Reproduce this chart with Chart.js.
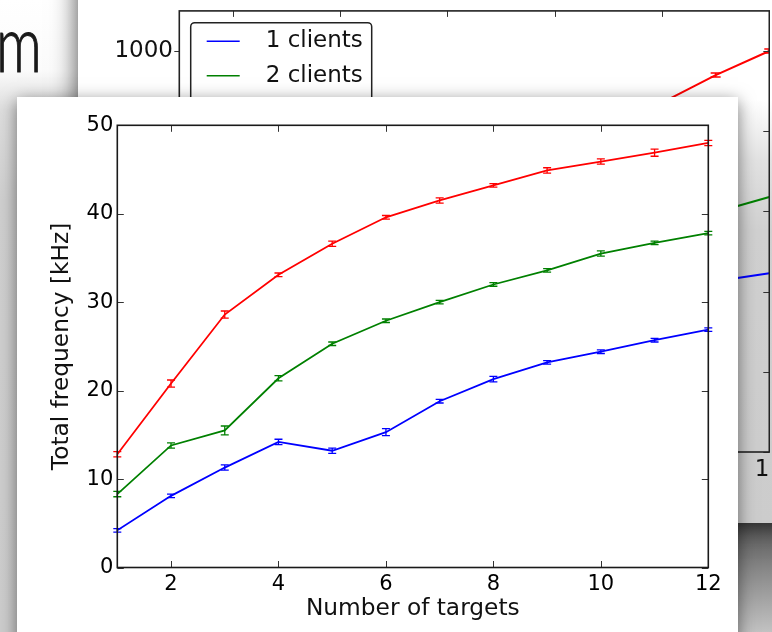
<!DOCTYPE html>
<html>
<head>
<meta charset="utf-8">
<script src="https://cdn.jsdelivr.net/npm/chart.js@4.4.1/dist/chart.umd.min.js"></script>
<style>
  html, body { margin: 0; padding: 0; width: 772px; height: 632px; overflow: hidden; background: #cfcfcf; }
  #slide { position: absolute; left: 0; top: 0; width: 100px; height: 632px;
           background: linear-gradient(to bottom, #ffffff 0px, #fbfbfb 70px, #dedede 110px, #d0d0d0 200px, #cdcdcd 632px); }
  #heading { position: absolute; left: -4px; top: 2px; font-family: 'Lato', 'Roboto', sans-serif; font-weight: 300;
             font-size: 79px; line-height: 79px; color: #1a1a1a; -webkit-text-stroke: 1.1px #1a1a1a;
             transform: scaleX(0.72); transform-origin: 0 0; }
  #floor { position: absolute; left: 690px; top: 523px; width: 82px; height: 109px;
           background: linear-gradient(to bottom, #555555 0%, #8a8a8a 45%, #c2c2c2 100%); }
  #backPanel { position: absolute; left: 78px; top: -40px; width: 740px; height: 563px;
               background: linear-gradient(to bottom, #ffffff 0px, #ffffff 140px, #e2e2e2 200px, #d0d0d0 270px, #cccccc 563px);
               box-shadow: 0 0 24px rgba(0,0,0,0.7); }
  #backClip { position: absolute; left: 0; top: 0; width: 770px; height: 632px; overflow: hidden; }
  #frontPanel { position: absolute; left: 17px; top: 97px; width: 721px; height: 580px; background: #ffffff;
                box-shadow: 0 4px 16px rgba(0,0,0,0.5); }
  canvas { position: absolute; left: 0; top: 0; }
</style>
</head>
<body>
<div id="slide"></div>
<div id="heading">m</div>
<div id="floor"></div>
<div id="backPanel"></div>
<div id="backClip"><canvas id="back" width="772" height="632"></canvas></div>
<div id="frontPanel"></div>
<canvas id="front" width="772" height="632"></canvas>

<script>
// Number of targets (horizontal axis) and the axis tick values
const targets = [1, 2, 3, 4, 5, 6, 7, 8, 9, 10, 11, 12];
const xTickValues = [2, 4, 6, 8, 10, 12];
const yTickValues = [0, 10, 20, 30, 40, 50];

// Total frequency [kHz] per number of targets, with error bar half-heights
const blueFreq  = [4.2, 8.1, 11.3, 14.2, 13.2, 15.3, 18.8, 21.3, 23.2, 24.4, 25.7, 26.9];
const blueErr   = [0.2, 0.2, 0.3, 0.3, 0.3, 0.4, 0.2, 0.3, 0.2, 0.2, 0.2, 0.2];
const greenFreq = [8.3, 13.8, 15.5, 21.4, 25.3, 27.9, 30.0, 32.0, 33.6, 35.5, 36.7, 37.8];
const greenErr  = [0.3, 0.3, 0.5, 0.3, 0.2, 0.2, 0.2, 0.2, 0.2, 0.3, 0.2, 0.2];
const redFreq   = [12.8, 20.8, 28.6, 33.1, 36.6, 39.6, 41.5, 43.2, 44.9, 45.9, 46.9, 48.0];
const redErr    = [0.3, 0.4, 0.4, 0.2, 0.3, 0.2, 0.3, 0.2, 0.3, 0.3, 0.4, 0.3];

// Earlier figure in the background (only its last points are shown)
const backBlue   = [null, null, null, null, null, null, null, null, null, null, 426, 446];
const backGreen  = [null, null, null, null, null, null, null, null, null, null, 598, 636];
const backRed    = [null, null, null, null, null, null, null, null, null, 871, 940, 1000];
const backRedErr = [null, null, null, null, null, null, null, null, null, 5, 5, 5];
const backYTickValues = [0, 200, 400, 600, 800, 1000];
const backLegendLabels = ['1 clients', '2 clients', '3 clients'];

const BLUE = '#0000ff', GREEN = '#008000', RED = '#ff0000';
Chart.defaults.font.family = "'DejaVu Sans', 'Liberation Sans', sans-serif";
Chart.defaults.color = '#111111';

function pointsOf(values) {
  return targets.map((x, i) => ({ x: x, y: values[i] }));
}
const plainNumber = v => String(v);

// Box around the plot area with matplotlib-style tick marks
const axisFrame = {
  id: 'axisFrame',
  afterDraw(chart, args, o) {
    const { ctx, chartArea: a, scales: { x, y } } = chart;
    ctx.save();
    ctx.strokeStyle = o.tickColor;
    ctx.lineWidth = 1;
    ctx.beginPath();
    x.ticks.forEach(t => {
      const px = Math.round(x.getPixelForValue(t.value)) + 0.5;
      if (o.top) { ctx.moveTo(px, a.top); ctx.lineTo(px, a.top + o.top); }
      if (o.bottom) { ctx.moveTo(px, a.bottom); ctx.lineTo(px, a.bottom - o.bottom); }
    });
    y.ticks.forEach(t => {
      const py = Math.round(y.getPixelForValue(t.value)) + 0.5;
      if (o.left) { ctx.moveTo(a.left, py); ctx.lineTo(a.left + o.left, py); }
      if (o.right) { ctx.moveTo(a.right, py); ctx.lineTo(a.right - o.right, py); }
    });
    ctx.stroke();
    ctx.strokeStyle = o.frameColor;
    ctx.lineWidth = o.frameWidth;
    ctx.strokeRect(a.left, a.top, a.right - a.left, a.bottom - a.top);
    ctx.restore();
  }
};

// Vertical error bars with caps, from each dataset's "errors" array
const errorBars = {
  id: 'errorBars',
  afterDatasetsDraw(chart, args, o) {
    const { ctx, scales: { x, y } } = chart;
    chart.data.datasets.forEach((ds, i) => {
      if (!ds.errors || !chart.isDatasetVisible(i)) return;
      ctx.save();
      ctx.strokeStyle = ds.borderColor;
      ctx.lineWidth = o.width;
      ds.data.forEach((p, j) => {
        const e = ds.errors[j];
        if (p.y == null || e == null) return;
        const px = x.getPixelForValue(p.x);
        const hi = y.getPixelForValue(p.y + e);
        const lo = y.getPixelForValue(p.y - e);
        ctx.beginPath();
        ctx.moveTo(px, hi); ctx.lineTo(px, lo);
        ctx.moveTo(px - o.cap, hi); ctx.lineTo(px + o.cap, hi);
        ctx.moveTo(px - o.cap, lo); ctx.lineTo(px + o.cap, lo);
        ctx.stroke();
      });
      ctx.restore();
    });
  }
};

// Legend box placed inside the plot area (upper left corner)
const insetLegend = {
  id: 'insetLegend',
  afterDraw(chart, args, o) {
    if (!o.labels) return;
    const { ctx, chartArea: a } = chart;
    const x0 = a.left + o.offsetX, y0 = a.top + o.offsetY;
    const h = o.firstRow * 2 + o.rowGap * (o.labels.length - 1);
    ctx.save();
    ctx.beginPath();
    ctx.roundRect(x0, y0, o.width, h, 4);
    ctx.fillStyle = '#ffffff';
    ctx.fill();
    ctx.strokeStyle = '#222222';
    ctx.lineWidth = 1.5;
    ctx.stroke();
    ctx.font = o.font;
    ctx.textBaseline = 'middle';
    o.labels.forEach((label, i) => {
      const cy = y0 + o.firstRow + i * o.rowGap;
      ctx.strokeStyle = chart.data.datasets[i].borderColor;
      ctx.lineWidth = 1.5;
      ctx.beginPath();
      ctx.moveTo(x0 + 16, cy); ctx.lineTo(x0 + 49, cy);
      ctx.stroke();
      ctx.fillStyle = '#111111';
      ctx.fillText(label, x0 + 75, cy);
    });
    ctx.restore();
  }
};

const noGrid = { display: false, drawTicks: false };

// Background figure
new Chart(document.getElementById('back'), {
  type: 'line',
  data: {
    datasets: [
      { label: backLegendLabels[0], data: pointsOf(backBlue), borderColor: BLUE },
      { label: backLegendLabels[1], data: pointsOf(backGreen), borderColor: GREEN },
      { label: backLegendLabels[2], data: pointsOf(backRed), errors: backRedErr, borderColor: RED }
    ]
  },
  options: {
    responsive: false, animation: false, devicePixelRatio: 1, events: [],
    layout: { padding: { left: 78, top: 10.9, right: 2.7, bottom: 0 } },
    elements: { point: { radius: 0 }, line: { borderWidth: 2, tension: 0 } },
    plugins: {
      legend: { display: false }, tooltip: { enabled: false },
      axisFrame: { tickColor: '#333333', frameColor: '#222222', frameWidth: 1.6, top: 6, bottom: 6, left: -5, right: 6 },
      errorBars: { width: 1.5, cap: 5 },
      insetLegend: { labels: backLegendLabels, offsetX: 11.4, offsetY: 11.8, width: 181, firstRow: 18.6, rowGap: 34.4,
                     font: "23px 'DejaVu Sans', sans-serif" }
    },
    scales: {
      x: {
        type: 'linear', min: 1, max: 12,
        afterBuildTicks: s => { s.ticks = xTickValues.map(v => ({ value: v })); },
        afterFit: s => { s.height = 180; s.paddingLeft = 0; s.paddingRight = 0; },
        grid: noGrid, border: { display: false },
        ticks: { font: { size: 23 }, padding: 4.2, maxRotation: 0, autoSkip: false, callback: plainNumber }
      },
      y: {
        type: 'linear', min: 0, max: 1100,
        afterBuildTicks: s => { s.ticks = backYTickValues.map(v => ({ value: v })); },
        afterFit: s => { s.width = 101.3; s.paddingTop = 0; s.paddingBottom = 0; },
        grid: noGrid, border: { display: false },
        ticks: { font: { size: 23 }, padding: 6.3, callback: plainNumber }
      }
    }
  },
  plugins: [errorBars, axisFrame, insetLegend]
});

// Total frequency versus number of targets
new Chart(document.getElementById('front'), {
  type: 'line',
  data: {
    datasets: [
      { label: '1 clients', data: pointsOf(blueFreq), errors: blueErr, borderColor: BLUE },
      { label: '2 clients', data: pointsOf(greenFreq), errors: greenErr, borderColor: GREEN },
      { label: '3 clients', data: pointsOf(redFreq), errors: redErr, borderColor: RED }
    ]
  },
  options: {
    responsive: false, animation: false, devicePixelRatio: 1, events: [],
    layout: { padding: { left: 17, top: 125.3, right: 63.7, bottom: 0 } },
    elements: { point: { radius: 0 }, line: { borderWidth: 1.8, tension: 0 } },
    plugins: {
      legend: { display: false }, tooltip: { enabled: false },
      axisFrame: { tickColor: '#333333', frameColor: '#1a1a1a', frameWidth: 1.6, top: 6.5, bottom: 6.5, left: 6.5, right: 6.5 },
      errorBars: { width: 1.3, cap: 4 }
    },
    scales: {
      x: {
        type: 'linear', min: 1, max: 12,
        afterBuildTicks: s => { s.ticks = xTickValues.map(v => ({ value: v })); },
        afterFit: s => { s.height = 64.5; s.paddingLeft = 0; s.paddingRight = 0; },
        grid: noGrid, border: { display: false },
        ticks: { font: { size: 21 }, color: '#000000', padding: 4.4, maxRotation: 0, autoSkip: false, callback: plainNumber },
        title: { display: true, text: 'Number of targets', font: { size: 23.3 }, color: '#111111',
                 padding: { top: 0, bottom: 9.2 } }
      },
      y: {
        type: 'linear', min: 0, max: 50,
        afterBuildTicks: s => { s.ticks = yTickValues.map(v => ({ value: v })); },
        afterFit: s => { s.width = 100.3; s.paddingTop = 0; s.paddingBottom = 0; },
        grid: noGrid, border: { display: false },
        ticks: { font: { size: 21 }, color: '#000000', padding: 4, callback: plainNumber },
        title: { display: true, text: 'Total frequency [kHz]', font: { size: 23.3 }, color: '#111111',
                 padding: { top: 31, bottom: 0 } }
      }
    }
  },
  plugins: [errorBars, axisFrame]
});
</script>
</body>
</html>
